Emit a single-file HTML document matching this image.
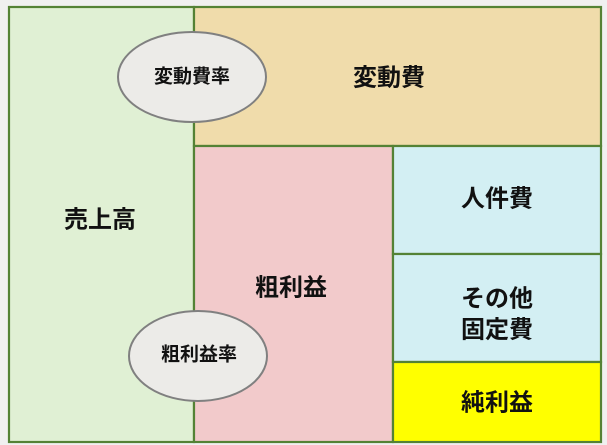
<!DOCTYPE html>
<html><head><meta charset="utf-8"><style>
body{margin:0;width:607px;height:445px;background:#f0f0f0;overflow:hidden}
</style></head><body>
<svg width="607" height="445" xmlns="http://www.w3.org/2000/svg" style="display:block;font-family:'Liberation Sans','Noto Sans CJK JP',sans-serif;font-weight:bold">
<g stroke="#548235" stroke-width="2.2">
<rect x="9" y="7" width="185" height="435" fill="#e0f0d4"/>
<rect x="194" y="7" width="407" height="139" fill="#f0dcab"/>
<rect x="194" y="146" width="199" height="296" fill="#f2cacb"/>
<rect x="393" y="146" width="208" height="108" fill="#d3eff3"/>
<rect x="393" y="254" width="208" height="108" fill="#d3eff3"/>
<rect x="393" y="362" width="208" height="80" fill="#ffff00"/>
</g>
<g stroke="#808080" stroke-width="2" fill="#ecebe8">
<ellipse cx="192" cy="77" rx="74" ry="45"/>
<ellipse cx="198" cy="356" rx="69" ry="45"/>
</g>
<g fill="#111" text-anchor="middle" dominant-baseline="central">
<text x="100" y="220" font-size="24">売上高</text>
<text x="389" y="78" font-size="24">変動費</text>
<text x="291" y="288" font-size="24">粗利益</text>
<text x="497" y="199" font-size="24">人件費</text>
<text x="497" y="299" font-size="24">その他</text>
<text x="497" y="330" font-size="24">固定費</text>
<text x="497" y="403" font-size="24">純利益</text>
<text x="192" y="77" font-size="19">変動費率</text>
<text x="199" y="355" font-size="19">粗利益率</text>
</g>
</svg>
</body></html>
